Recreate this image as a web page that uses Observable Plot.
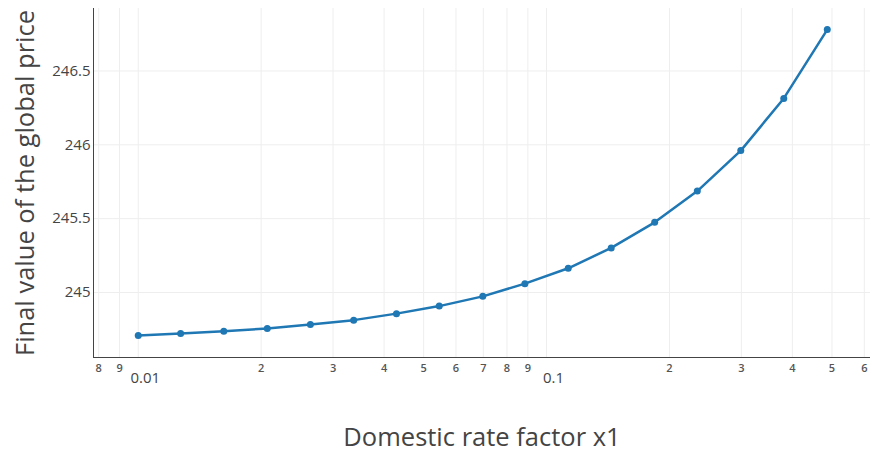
<!DOCTYPE html>
<html>
<head>
<meta charset="utf-8">
<script src="https://cdn.jsdelivr.net/npm/d3@7"></script>
<script src="https://cdn.jsdelivr.net/npm/@observablehq/plot@0.6"></script>
<style>
  html, body { margin: 0; padding: 0; background: #fff; }
  #chart svg { display: block; }
</style>
</head>
<body>
<div id="chart"></div>
<script>
// Data
const rateFactor = [0.01, 0.0127, 0.0162, 0.0207, 0.0264, 0.0337, 0.0429, 0.0546, 0.0698, 0.0885,
                    0.113, 0.144, 0.184, 0.234, 0.299, 0.381, 0.487];
const globalPrice = [244.709, 244.723, 244.737, 244.757, 244.784, 244.813, 244.857, 244.908, 244.974, 245.060,
                     245.164, 245.302, 245.475, 245.687, 245.961, 246.314, 246.780];

const minorTicks = [0.008, 0.009, 0.02, 0.03, 0.04, 0.05, 0.06, 0.07, 0.08, 0.09, 0.2, 0.3, 0.4, 0.5, 0.6];
const minorLabels = ["8", "9", "2", "3", "4", "5", "6", "7", "8", "9", "2", "3", "4", "5", "6"];
const decadeTicks = [0.01, 0.1];
const decadeLabels = ["0.01", "0.1"];
const yTicks = [245, 245.5, 246, 246.5];
const yLabels = ["245", "245.5", "246", "246.5"];
const xTitle = "Domestic rate factor x1";
const yTitle = "Final value of the global price";

const xDomain = [0.00777, 0.6214];
const yDomain = [244.56, 246.923];
const gridX = [...minorTicks, ...decadeTicks].sort((a, b) => a - b);

const data = rateFactor.map((x, i) => ({x, y: globalPrice[i]}));
const ink = "#444";
const blue = "#1f77b4";

const chart = Plot.plot({
  width: 872,
  height: 455,
  marginLeft: 93,
  marginRight: 2,
  marginTop: 8,
  marginBottom: 98,
  style: {fontFamily: "'Open Sans', sans-serif", background: "#fff"},
  x: {type: "log", domain: xDomain, axis: null},
  y: {domain: yDomain, axis: null},
  marks: [
    Plot.gridX(gridX, {stroke: "#eee", strokeOpacity: 1, strokeWidth: 1}),
    Plot.gridY(yTicks, {stroke: "#eee", strokeOpacity: 1, strokeWidth: 1}),
    Plot.text(yTicks, {y: d => d, frameAnchor: "left", textAnchor: "end", lineAnchor: "middle", dx: -3,
                       text: (d, i) => yLabels[i], fontSize: 15, fill: ink}),
    Plot.text(minorTicks, {x: d => d, frameAnchor: "bottom", textAnchor: "middle", lineAnchor: "middle", dy: 11,
                           text: (d, i) => minorLabels[i], fontSize: 11, fontWeight: 600, fill: "#555"}),
    Plot.text(decadeTicks, {x: d => d, frameAnchor: "bottom", textAnchor: "middle", lineAnchor: "middle", dy: 21, dx: 7,
                            text: (d, i) => decadeLabels[i], fontSize: 15, fill: ink}),
    Plot.ruleX([xDomain[0]], {stroke: ink, strokeWidth: 1}),
    Plot.ruleY([yDomain[0]], {stroke: ink, strokeWidth: 1}),
    Plot.line(data, {x: "x", y: "y", stroke: blue, strokeWidth: 2.5}),
    Plot.dot(data, {x: "x", y: "y", r: 3.5, fill: blue, stroke: "none"}),
    Plot.text([xTitle], {frameAnchor: "bottom", textAnchor: "middle", lineAnchor: "middle", dy: 80, fontSize: 25.5, fill: ink}),
    Plot.text([yTitle], {frameAnchor: "left", textAnchor: "middle", lineAnchor: "middle", rotate: -90, dx: -68, fontSize: 25.5, fill: ink})
  ]
});
document.getElementById("chart").appendChild(chart);
</script>
</body>
</html>
